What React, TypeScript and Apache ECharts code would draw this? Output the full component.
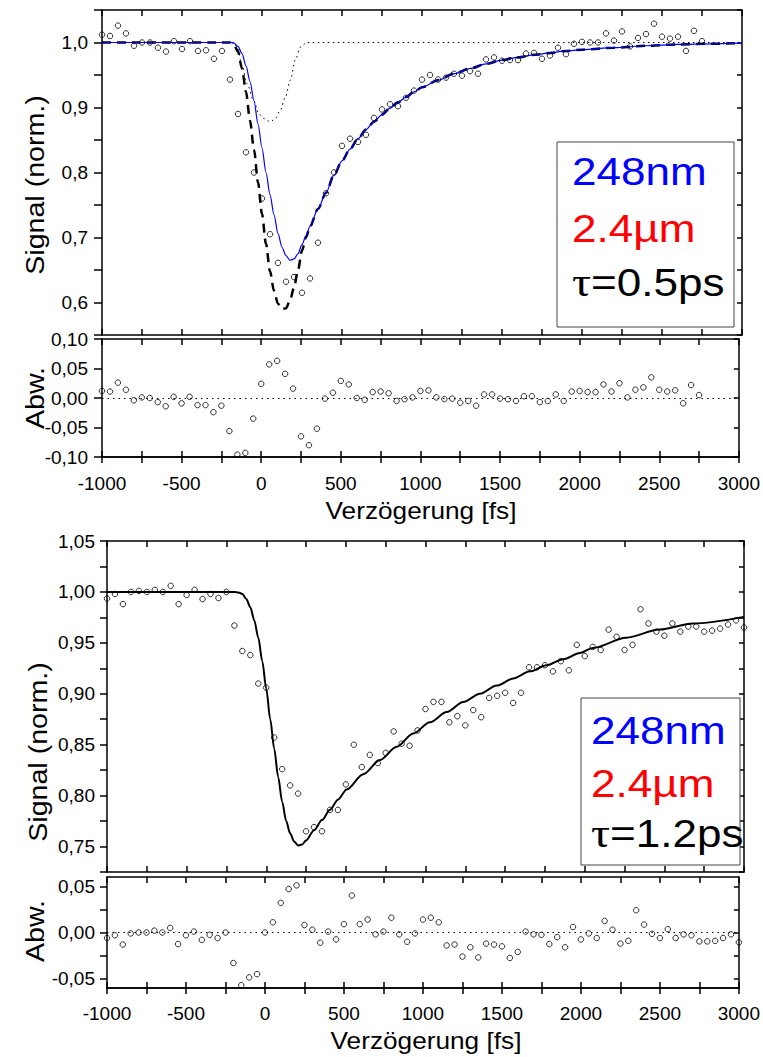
import React, { useEffect, useRef } from "react";
import * as echarts from "echarts";

// ---------- DATA ----------
const topTimes = [
  -1000, -950, -900, -850, -800, -750, -700, -650, -600, -550, -500, -450, -400, -350, -300, -250,
  -200, -150, -100, -50, 0, 50, 100, 150, 200, 250, 300, 350, 400, 450, 500, 550,
  600, 650, 700, 750, 800, 850, 900, 950, 1000, 1050, 1100, 1150, 1200, 1250, 1300, 1350,
  1400, 1450, 1500, 1550, 1600, 1650, 1700, 1750, 1800, 1850, 1900, 1950, 2000, 2050, 2100, 2150,
  2200, 2250, 2300, 2350, 2400, 2450, 2500, 2550, 2600, 2650, 2700, 2750,
];
const topSignal = [
  1.012, 1.010, 1.026, 1.014, 0.995, 1.000, 1.000, 0.992, 0.986, 1.002, 0.990, 1.002, 0.987, 0.988, 0.975, 0.987,
  0.943, 0.890, 0.831, 0.800, 0.760, 0.705, 0.661, 0.632, 0.639, 0.615, 0.637, 0.692, 0.768, 0.800, 0.841, 0.852,
  0.847, 0.858, 0.884, 0.897, 0.905, 0.902, 0.915, 0.926, 0.943, 0.950, 0.943, 0.946, 0.952, 0.949, 0.956, 0.952,
  0.974, 0.977, 0.972, 0.973, 0.973, 0.983, 0.984, 0.975, 0.980, 0.992, 0.982, 0.998, 1.001, 1.000, 1.000, 1.014,
  1.003, 1.017, 0.994, 1.007, 1.013, 1.029, 1.009, 1.006, 1.009, 0.987, 1.018, 1.002,
];
const topResidual = [
  0.012, 0.011, 0.026, 0.014, -0.004, 0.001, 0.0, -0.007, -0.014, 0.002, -0.009, 0.002, -0.012, -0.012, -0.024, -0.013,
  -0.056, -0.096, -0.093, -0.035, 0.024, 0.057, 0.063, 0.041, 0.016, -0.065, -0.08, -0.052, -0.001, 0.009, 0.029, 0.023,
  0.0, -0.003, 0.01, 0.011, 0.008, -0.005, -0.002, 0.001, 0.012, 0.013, 0.001, -0.002, -0.001, -0.008, -0.005, -0.013,
  0.006, 0.006, -0.001, -0.002, -0.005, 0.003, 0.003, -0.007, -0.005, 0.006, -0.005, 0.011, 0.012, 0.01, 0.01, 0.023,
  0.011, 0.025, 0.001, 0.014, 0.018, 0.035, 0.014, 0.011, 0.013, -0.009, 0.022, 0.005,
];
// fit curves of the upper panel, [delay, signal]
const topFitBlue = [
  [-1000, 1.0], [-200, 1.0], [-175, 0.999], [-150, 0.994], [-125, 0.983], [-100, 0.964], [-75, 0.94],
  [-50, 0.91], [-25, 0.875], [0, 0.838], [25, 0.8], [50, 0.766], [75, 0.735], [100, 0.706], [125, 0.685],
  [150, 0.672], [175, 0.665], [200, 0.667], [225, 0.675], [250, 0.689], [275, 0.703], [300, 0.717],
  [350, 0.744], [400, 0.769], [450, 0.796], [500, 0.818], [550, 0.836], [600, 0.852], [650, 0.866],
  [700, 0.878], [750, 0.889], [800, 0.899], [850, 0.908], [900, 0.916], [950, 0.924], [1000, 0.931],
  [1100, 0.942], [1200, 0.952], [1300, 0.96], [1400, 0.967], [1500, 0.973], [1600, 0.977], [1700, 0.981],
  [1800, 0.984], [1900, 0.987], [2000, 0.989], [2200, 0.992], [2400, 0.995], [2600, 0.997], [2800, 0.998],
  [3000, 0.999],
];
const topFitDashed = [
  [-1000, 1.0], [-200, 1.0], [-175, 0.996], [-150, 0.986], [-125, 0.96], [-100, 0.924], [-75, 0.88],
  [-50, 0.835], [-25, 0.785], [0, 0.736], [25, 0.69], [50, 0.648], [75, 0.618], [100, 0.598], [125, 0.59],
  [150, 0.591], [175, 0.603], [200, 0.623], [225, 0.65], [250, 0.68], [275, 0.7], [300, 0.717],
  [350, 0.744], [400, 0.769], [450, 0.796], [500, 0.818], [550, 0.836], [600, 0.852], [650, 0.866],
  [700, 0.878], [750, 0.889], [800, 0.899], [850, 0.908], [900, 0.916], [950, 0.924], [1000, 0.931],
  [1100, 0.942], [1200, 0.952], [1300, 0.96], [1400, 0.967], [1500, 0.973], [1600, 0.977], [1700, 0.981],
  [1800, 0.984], [1900, 0.987], [2000, 0.989], [2200, 0.992], [2400, 0.995], [2600, 0.997], [2800, 0.998],
  [3000, 0.999],
];
const topPulse = [
  [-1000, 1.0], [-175, 1.0], [-155, 0.993], [-125, 0.965], [-95, 0.937], [-52, 0.911], [-21, 0.891],
  [10, 0.883], [52, 0.878], [83, 0.883], [115, 0.896], [146, 0.916], [177, 0.942], [208, 0.973],
  [240, 0.993], [280, 1.0], [3000, 1.0],
];

const bottomTimes = [
  -1000, -950, -900, -850, -800, -750, -700, -650, -600, -550, -500, -450, -400, -350, -300, -250,
  -200, -150, -100, -50, 0, 50, 100, 150, 200, 250, 300, 350, 400, 450, 500, 550,
  600, 650, 700, 750, 800, 850, 900, 950, 1000, 1050, 1100, 1150, 1200, 1250, 1300, 1350,
  1400, 1450, 1500, 1550, 1600, 1650, 1700, 1750, 1800, 1850, 1900, 1950, 2000, 2050, 2100, 2150,
  2200, 2250, 2300, 2350, 2400, 2450, 2500, 2550, 2600, 2650, 2700, 2750, 2800, 2850, 2900, 2950,
  3000,
];
const bottomSignal = [
  0.9935, 0.998, 0.988, 1.0, 1.001, 1.0, 1.002, 1.0, 1.006, 0.988, 0.997, 1.002, 0.993, 0.998, 0.994, 1.0,
  0.967, 0.942, 0.938, 0.91, 0.906, 0.857, 0.826, 0.81, 0.802, 0.765, 0.769, 0.765, 0.786, 0.786, 0.811, 0.85,
  0.828, 0.84, 0.832, 0.842, 0.863, 0.851, 0.849, 0.864, 0.885, 0.892, 0.892, 0.872, 0.878, 0.869, 0.884, 0.877,
  0.896, 0.898, 0.901, 0.891, 0.901, 0.926, 0.926, 0.928, 0.922, 0.932, 0.923, 0.948, 0.937, 0.946, 0.943, 0.963,
  0.956, 0.943, 0.948, 0.983, 0.969, 0.961, 0.957, 0.969, 0.961, 0.966, 0.966, 0.961, 0.962, 0.964, 0.968, 0.972,
  0.965,
];
const bottomResidual = [
  -0.006, -0.003, -0.013, -0.001, 0.0, 0.0, 0.002, 0.0, 0.005, -0.0125, -0.003, 0.001, -0.008, -0.0025, -0.006, 0.0,
  -0.033, -0.057, -0.0486, -0.045, 0.0, 0.011, 0.032, 0.047, 0.051, 0.008, 0.003, -0.011, 0.001, -0.0075, 0.009, 0.04,
  0.009, 0.014, -0.002, 0.001, 0.016, -0.002, -0.01, -0.001, 0.014, 0.016, 0.011, -0.014, -0.013, -0.026, -0.016, -0.027,
  -0.012, -0.013, -0.015, -0.0275, -0.021, 0.001, -0.002, -0.0025, -0.0125, -0.005, -0.016, 0.006, -0.0075, -0.001, -0.006, 0.0125,
  0.003, -0.012, -0.009, 0.024, 0.0086, -0.0014, -0.006, 0.0036, -0.006, -0.002, -0.003, -0.0096, -0.0096, -0.009, -0.006, -0.002,
  -0.0107,
];
const bottomFit = [
  [-1000, 1.0], [-200, 1.0], [-175, 0.9995], [-150, 0.998], [-125, 0.993], [-100, 0.985], [-75, 0.972],
  [-50, 0.955], [-25, 0.932], [0, 0.905], [25, 0.875], [50, 0.846], [75, 0.818], [100, 0.794], [125, 0.775],
  [150, 0.763], [175, 0.755], [200, 0.751], [225, 0.752], [250, 0.756], [300, 0.766], [350, 0.776],
  [400, 0.786], [450, 0.796], [505, 0.806], [609, 0.821], [714, 0.835], [819, 0.848], [923, 0.861], [1028, 0.872],
  [1133, 0.882], [1237, 0.892], [1342, 0.9], [1447, 0.908], [1551, 0.915], [1656, 0.922], [1760, 0.928],
  [1865, 0.934], [1970, 0.94], [2051, 0.945], [2260, 0.955], [2470, 0.963], [2679, 0.969], [3000, 0.9755],
];

const xTickLabels = [-1000, -500, 0, 500, 1000, 1500, 2000, 2500, 3000];
const topSignalLabels = [0.6, 0.7, 0.8, 0.9, 1.0];
const topResidualLabels = [-0.1, -0.05, 0, 0.05, 0.1];
const bottomSignalLabels = [0.75, 0.8, 0.85, 0.9, 0.95, 1.0, 1.05];
const bottomResidualLabels = [-0.05, 0, 0.05];
const bottomResidualTicks = [-0.05, -0.025, 0, 0.025, 0.05];

// ---------- helpers ----------
const FONT = "'Liberation Sans', Arial, Helvetica, sans-serif";
const SERIF = "'Liberation Serif', 'Times New Roman', serif";
const zip = (t: number[], v: number[]) => t.map((x, i) => [x, v[i]]);
const fmt = (v: number, d: number) => (Math.abs(v) < 1e-9 ? 0 : v).toFixed(d).replace(".", ",");
const near = (v: number, list: number[]) => list.some((x) => Math.abs(x - v) < 1e-7);

const AX = { color: "#000", width: 1.5 };

function xAxesFor(grid: number, labels: boolean, labelMargin: number) {
  const base = {
    type: "value",
    gridIndex: grid,
    min: -1000,
    max: 3000,
    interval: 250,
    splitLine: { show: false },
    axisLine: { show: true, onZero: false, lineStyle: AX },
  };
  const axes: any[] = [
    {
      ...base,
      position: "bottom",
      axisTick: { show: true, inside: !labels, length: 6, lineStyle: AX },
      axisLabel: {
        show: labels,
        margin: labelMargin,
        showMinLabel: true,
        showMaxLabel: true,
        color: "#000",
        fontSize: 19,
        fontFamily: FONT,
        formatter: (v: number) => (near(v, xTickLabels) ? String(Math.round(v)) : ""),
      },
    },
    {
      ...base,
      position: "top",
      axisTick: { show: true, inside: true, length: 6, lineStyle: AX },
      axisLabel: { show: false },
    },
  ];
  if (labels) {
    axes.push({
      ...base,
      position: "bottom",
      axisTick: { show: true, inside: true, length: 6, lineStyle: AX },
      axisLabel: { show: false },
    });
  }
  return axes;
}

function yAxesFor(grid: number, cfg: any, labelList: number[], digits: number, margin: number, tickLen: number) {
  const base = {
    type: "value",
    gridIndex: grid,
    min: cfg.min,
    max: cfg.max,
    splitLine: { show: false },
    axisLine: { show: true, onZero: false, lineStyle: AX },
  };
  const tickExtra = cfg.ticks ? { customValues: cfg.ticks } : {};
  const interval = cfg.interval ? { interval: cfg.interval } : {};
  return [
    {
      ...base,
      ...interval,
      position: "left",
      axisTick: { show: true, inside: false, length: tickLen, lineStyle: AX, ...tickExtra },
      axisLabel: {
        show: true,
        margin,
        color: "#000",
        fontSize: 19,
        fontFamily: FONT,
        showMinLabel: true,
        showMaxLabel: true,
        ...(cfg.ticks ? { customValues: labelList } : {}),
        formatter: (v: number) => (near(v, labelList) ? fmt(v, digits) : ""),
      },
    },
    {
      ...base,
      ...interval,
      position: "right",
      axisTick: { show: true, inside: true, length: 5, lineStyle: AX, ...tickExtra },
      axisLabel: { show: false },
    },
  ];
}

function scatter(xi: number, yi: number, data: number[][]) {
  return {
    type: "scatter",
    xAxisIndex: xi,
    yAxisIndex: yi,
    data,
    symbol: "circle",
    symbolSize: 5.5,
    itemStyle: { color: "rgba(0,0,0,0)", borderColor: "#000", borderWidth: 1 },
    z: 5,
    silent: true,
  };
}

function curve(xi: number, yi: number, data: number[][], lineStyle: any, z = 3) {
  return {
    type: "line",
    xAxisIndex: xi,
    yAxisIndex: yi,
    data,
    showSymbol: false,
    symbol: "none",
    smooth: 0.3,
    smoothMonotone: "x",
    lineStyle,
    z,
    silent: true,
  };
}

function zeroLine(xi: number, yi: number, data: number[][]) {
  return {
    ...scatter(xi, yi, data),
    markLine: {
      silent: true,
      symbol: ["none", "none"],
      label: { show: false },
      lineStyle: { color: "#000", type: [1.5, 4], width: 1 },
      data: [{ yAxis: 0 }],
    },
  };
}

function legendBlock(x: number, y: number, w: number, h: number, tx: number, ys: number[], tauValue: string) {
  const txt = (text: string, yy: number, color: string, rich?: any) => ({
    type: "text",
    x: tx,
    y: yy,
    scaleX: 1.13,
    style: {
      text,
      fill: color,
      font: `39px ${FONT}`,
      textAlign: "left",
      textVerticalAlign: "middle",
      ...(rich ? { rich } : {}),
    },
  });
  return [
    { type: "rect", shape: { x, y, width: w, height: h }, style: { fill: "#fff", stroke: "#444", lineWidth: 1 }, z: 10 },
    { ...txt("248nm", ys[0], "#0000ff"), z: 11 },
    { ...txt("2.4µm", ys[1], "#ff0000"), z: 11 },
    {
      ...txt(`{t|τ}{n|=${tauValue}}`, ys[2], "#000", {
        t: { font: `42px ${SERIF}`, fill: "#000" },
        n: { font: `39px ${FONT}`, fill: "#000" },
      }),
      z: 11,
    },
  ];
}

function title(text: string, x: number, y: number, size: number, scale: number, vertical: boolean) {
  return {
    type: "text",
    x,
    y,
    rotation: vertical ? Math.PI / 2 : 0,
    scaleX: scale,
    style: { text, fill: "#000", font: `${size}px ${FONT}`, textAlign: "center", textVerticalAlign: "middle" },
    z: 12,
  };
}

export default function App() {
  const ref = useRef<HTMLDivElement>(null);
  useEffect(() => {
    if (!ref.current) return;
    const chart = echarts.init(ref.current, undefined, { renderer: "svg" });
    const option: any = {
      animation: false,
      backgroundColor: "#fff",
      grid: [
        { left: 102, top: 10, width: 640, height: 325 },
        { left: 102, top: 339, width: 640, height: 118 },
        { left: 107, top: 541, width: 637, height: 331 },
        { left: 107, top: 877, width: 637, height: 111 },
      ],
      xAxis: [
        ...xAxesFor(0, false, 0), // 0,1
        ...xAxesFor(1, true, 17), // 2,3,4
        ...xAxesFor(2, false, 0), // 5,6
        ...xAxesFor(3, true, 16), // 7,8,9
      ],
      yAxis: [
        ...yAxesFor(0, { min: 0.55, max: 1.05, interval: 0.05 }, topSignalLabels, 1, 14, 8), // 0,1
        ...yAxesFor(1, { min: -0.1, max: 0.1, interval: 0.05 }, topResidualLabels, 2, 14, 8), // 2,3
        ...yAxesFor(2, { min: 0.725, max: 1.05, interval: 0.025 }, bottomSignalLabels, 2, 12, 7), // 4,5
        ...yAxesFor(3, { min: -0.06, max: 0.06, ticks: bottomResidualTicks }, bottomResidualLabels, 2, 12, 7), // 6,7
      ],
      series: [
        curve(0, 0, topPulse, { color: "#000", width: 1, type: [1.5, 3.5] }, 2),
        curve(0, 0, topFitDashed, { color: "#000", width: 2.5, type: [9, 6] }, 3),
        curve(0, 0, topFitBlue, { color: "#0000ff", width: 1.2 }, 4),
        scatter(0, 0, zip(topTimes, topSignal)),
        zeroLine(2, 2, zip(topTimes, topResidual)),
        curve(5, 4, bottomFit, { color: "#000", width: 2 }, 3),
        scatter(5, 4, zip(bottomTimes, bottomSignal)),
        zeroLine(7, 6, zip(bottomTimes, bottomResidual)),
      ],
      graphic: [
        ...legendBlock(557, 142, 177, 185, 572, [171, 228, 282], "0.5ps"),
        ...legendBlock(581, 698, 159, 167, 591, [730, 783, 833], "1.2ps"),
        title("Signal (norm.)", 35, 185, 26, 1.1, true),
        title("Abw.", 35, 398, 26, 1.1, true),
        title("Verzögerung [fs]", 421, 511, 23, 1.14, false),
        title("Signal (norm.)", 38, 752, 26, 1.1, true),
        title("Abw.", 35, 931, 26, 1.1, true),
        title("Verzögerung [fs]", 426, 1041, 23, 1.14, false),
      ],
    };
    chart.setOption(option);
    return () => chart.dispose();
  }, []);
  return (
    <div
      ref={ref}
      style={{ position: "absolute", left: 0, top: 0, width: 763, height: 1057, background: "#fff" }}
    />
  );
}
